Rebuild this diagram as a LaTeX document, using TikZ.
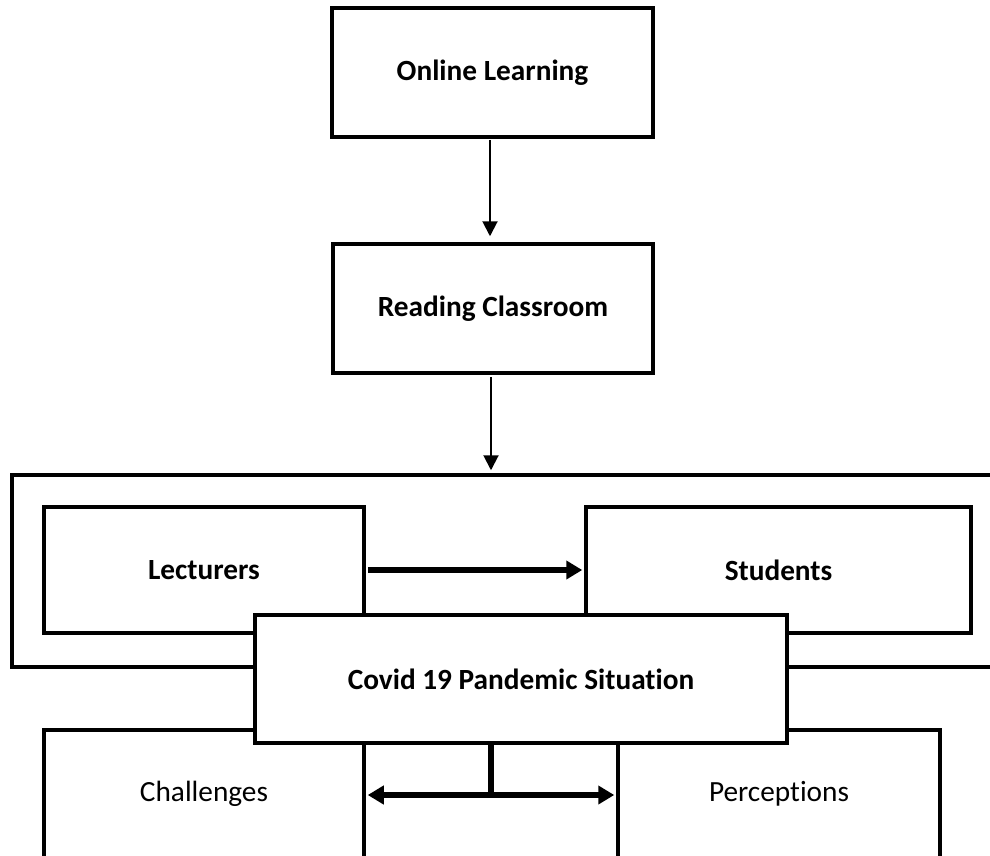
\documentclass[tikz,border=0pt]{standalone}
\usepackage{fontspec}
\setmainfont{Carlito}[Ligatures={NoCommon}]
\usetikzlibrary{arrows.meta}
\tikzset{
  box/.style={draw, line width=3.5pt, fill=white, inner sep=0pt, font=\fontsize{29.3}{34}\selectfont},
  bbox/.style={box, font=\fontsize{29.3}{34}\selectfont\bfseries},
  thinarrow/.style={line width=2pt, -{Triangle[width=15pt,length=15pt]}},
  thickarrow/.style={line width=6pt, -{Triangle[width=18pt,length=16pt]}},
  dblarrow/.style={line width=6pt, {Triangle[width=18pt,length=16pt]}-{Triangle[width=18pt,length=16pt]}},
}
\begin{document}
\begin{tikzpicture}[x=1pt,y=-1pt]
\useasboundingbox (0,0) rectangle (990,855);
\clip (0,0) rectangle (990,855);
\node[bbox, minimum width=321pt, minimum height=129pt] (online) at (492.5,72.5) {Online Learning};
\node[bbox, minimum width=320pt, minimum height=129pt] (reading) at (493,308.5) {Reading Classroom};
\node[box, fill=none, minimum width=990pt, minimum height=192pt] (frame) at (507,571) {};
\node[bbox, minimum width=320pt, minimum height=126pt] (lect) at (204,570) {Lecturers};
\node[bbox, minimum width=385pt, minimum height=126pt] (stud) at (778.5,570) {Students};
\node[box, minimum width=320pt, minimum height=128pt] (chal) at (204,794) {Challenges};
\node[box, minimum width=322pt, minimum height=128pt] (perc) at (779,794) {Perceptions};
\node[bbox, minimum width=532pt, minimum height=128pt] (covid) at (521,679) {Covid 19 Pandemic Situation};
\coordinate (a1) at (490,0);
\coordinate (a2) at (491,0);
\coordinate (j) at (491,795);
\draw[thinarrow, shorten <=1pt, shorten >=6pt] (online.south -| a1) -- (reading.north -| a1);
\draw[thinarrow, shorten <=2pt, shorten >=3pt] (reading.south -| a2) -- (frame.north -| a2);
\draw[thickarrow, shorten <=2pt, shorten >=2pt] (lect.east) -- (stud.west);
\draw[line width=6pt] (j |- covid.south) -- (j);
\draw[dblarrow, shorten <=2pt, shorten >=2pt] (chal.east |- j) -- (perc.west |- j);
\end{tikzpicture}
\end{document}
